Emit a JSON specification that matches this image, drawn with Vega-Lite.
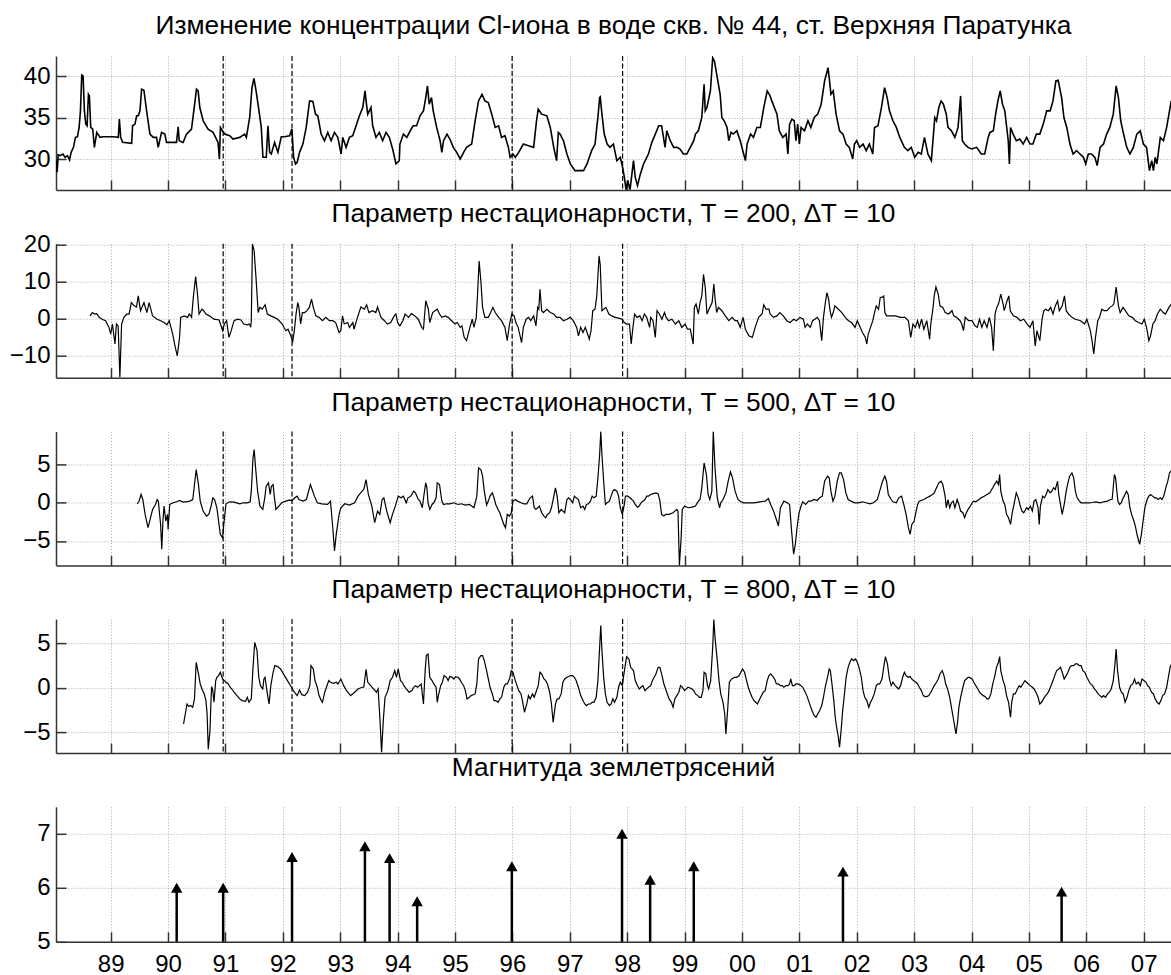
{
"$schema":"https://vega.github.io/schema/vega-lite/v6.json",
"background":"white",
"padding":{"left":9,"top":12,"right":0,"bottom":0},
"spacing":53.7,
"bounds":"flush",
"config":{
 "view":{"stroke":null},
 "font":"Liberation Sans",
 "title":{"font":"Liberation Sans","fontSize":26.3,"fontWeight":"normal","color":"#000","anchor":"middle","frame":"group","baseline":"alphabetic","offset":16},
 "axis":{"domainColor":"#333","domainWidth":1.5,"tickColor":"#333","tickWidth":1.5,"tickSize":-10,"gridColor":"#a8a8a8","gridDash":[1,2],"gridWidth":1,"labelFont":"Liberation Sans","labelFontSize":24,"labelColor":"#000","title":null},
 "axisX":{"labelPadding":21},
 "axisY":{"labelPadding":16}
},
"datasets":{
"ev":[{"t":1990.96},{"t":1992.16},{"t":1995.995},{"t":1997.92}],
"eq":[{"t":1990.15,"m":6.0},{"t":1990.96,"m":6.0},{"t":1992.16,"m":6.57},{"t":1993.43,"m":6.77},{"t":1993.86,"m":6.55},{"t":1994.34,"m":5.75},{"t":1995.99,"m":6.4},{"t":1997.91,"m":7.0},{"t":1998.40,"m":6.15},{"t":1999.16,"m":6.4},{"t":2001.76,"m":6.3},{"t":2005.57,"m":5.93}],
"cl":[
{"t":1988.050,"v":29.84},{"t":1988.067,"v":28.44},{"t":1988.085,"v":30.56},{"t":1988.119,"v":30.44},{"t":1988.166,"v":30.64},{"t":1988.206,"v":30.24},{"t":1988.247,"v":30.44},{"t":1988.282,"v":29.92},{"t":1988.311,"v":30.84},{"t":1988.351,"v":31.44},{"t":1988.386,"v":32.64},{"t":1988.421,"v":32.72},{"t":1988.450,"v":33.84},{"t":1988.473,"v":35.84},{"t":1988.496,"v":40.16},{"t":1988.519,"v":40.04},{"t":1988.542,"v":35.84},{"t":1988.566,"v":34.24},{"t":1988.589,"v":34.04},{"t":1988.612,"v":37.84},{"t":1988.629,"v":37.64},{"t":1988.652,"v":33.84},{"t":1988.687,"v":33.64},{"t":1988.716,"v":31.44},{"t":1988.757,"v":33.24},{"t":1988.815,"v":32.64},{"t":1988.873,"v":32.72},{"t":1989.046,"v":32.72},{"t":1989.133,"v":32.64},{"t":1989.151,"v":34.84},{"t":1989.174,"v":32.64},{"t":1989.209,"v":32.04},{"t":1989.365,"v":31.92},{"t":1989.382,"v":34.04},{"t":1989.423,"v":34.24},{"t":1989.452,"v":35.24},{"t":1989.481,"v":35.24},{"t":1989.510,"v":35.84},{"t":1989.539,"v":38.44},{"t":1989.579,"v":38.32},{"t":1989.626,"v":35.84},{"t":1989.684,"v":33.04},{"t":1989.742,"v":32.64},{"t":1989.799,"v":32.64},{"t":1989.828,"v":31.44},{"t":1989.886,"v":33.24},{"t":1989.944,"v":33.04},{"t":1989.973,"v":32.04},{"t":1990.147,"v":32.04},{"t":1990.176,"v":33.92},{"t":1990.194,"v":32.24},{"t":1990.263,"v":32.04},{"t":1990.321,"v":33.04},{"t":1990.408,"v":33.64},{"t":1990.448,"v":35.84},{"t":1990.495,"v":38.44},{"t":1990.524,"v":38.24},{"t":1990.553,"v":36.24},{"t":1990.611,"v":34.64},{"t":1990.697,"v":33.64},{"t":1990.784,"v":33.24},{"t":1990.871,"v":32.04},{"t":1990.894,"v":30.04},{"t":1990.912,"v":33.84},{"t":1990.947,"v":33.44},{"t":1990.987,"v":33.04},{"t":1991.074,"v":32.84},{"t":1991.132,"v":32.44},{"t":1991.248,"v":32.64},{"t":1991.335,"v":33.04},{"t":1991.364,"v":32.64},{"t":1991.422,"v":35.04},{"t":1991.462,"v":38.64},{"t":1991.497,"v":39.76},{"t":1991.538,"v":38.04},{"t":1991.584,"v":35.84},{"t":1991.624,"v":33.84},{"t":1991.653,"v":30.24},{"t":1991.711,"v":30.24},{"t":1991.740,"v":34.04},{"t":1991.770,"v":30.84},{"t":1991.799,"v":30.64},{"t":1991.856,"v":32.04},{"t":1991.914,"v":30.84},{"t":1991.972,"v":32.72},{"t":1992.030,"v":32.72},{"t":1992.117,"v":32.84},{"t":1992.158,"v":33.64},{"t":1992.187,"v":30.24},{"t":1992.221,"v":29.44},{"t":1992.250,"v":29.64},{"t":1992.291,"v":30.84},{"t":1992.349,"v":31.84},{"t":1992.407,"v":33.84},{"t":1992.465,"v":37.04},{"t":1992.523,"v":36.96},{"t":1992.569,"v":35.44},{"t":1992.609,"v":35.24},{"t":1992.667,"v":33.04},{"t":1992.725,"v":32.24},{"t":1992.783,"v":33.24},{"t":1992.841,"v":32.24},{"t":1992.899,"v":33.24},{"t":1992.957,"v":32.64},{"t":1993.015,"v":30.64},{"t":1993.044,"v":32.64},{"t":1993.102,"v":31.44},{"t":1993.160,"v":32.64},{"t":1993.218,"v":32.84},{"t":1993.276,"v":34.04},{"t":1993.334,"v":35.24},{"t":1993.392,"v":36.24},{"t":1993.432,"v":38.24},{"t":1993.450,"v":37.04},{"t":1993.479,"v":35.44},{"t":1993.536,"v":36.24},{"t":1993.565,"v":34.04},{"t":1993.623,"v":32.64},{"t":1993.681,"v":33.24},{"t":1993.739,"v":32.24},{"t":1993.797,"v":33.24},{"t":1993.855,"v":32.64},{"t":1993.913,"v":31.24},{"t":1993.971,"v":29.44},{"t":1994.029,"v":29.84},
{"t":1994.04,"v":31.84},{"t":1994.10,"v":33.04},{"t":1994.16,"v":32.64},{"t":1994.22,"v":33.44},{"t":1994.27,"v":34.04},{"t":1994.33,"v":34.04},{"t":1994.39,"v":35.24},{"t":1994.45,"v":35.84},{"t":1994.49,"v":37.44},{"t":1994.52,"v":38.84},{"t":1994.55,"v":36.64},{"t":1994.59,"v":37.44},{"t":1994.62,"v":35.84},{"t":1994.68,"v":33.84},{"t":1994.74,"v":32.24},{"t":1994.77,"v":30.84},{"t":1994.80,"v":32.24},{"t":1994.86,"v":33.04},{"t":1994.91,"v":32.44},{"t":1994.97,"v":31.44},{"t":1995.03,"v":30.84},{"t":1995.09,"v":30.04},{"t":1995.15,"v":30.84},{"t":1995.20,"v":31.44},{"t":1995.29,"v":31.84},{"t":1995.35,"v":34.64},{"t":1995.41,"v":37.04},{"t":1995.47,"v":37.84},{"t":1995.52,"v":37.04},{"t":1995.58,"v":36.84},{"t":1995.64,"v":35.44},{"t":1995.70,"v":33.84},{"t":1995.76,"v":34.04},{"t":1995.81,"v":32.64},{"t":1995.87,"v":32.84},{"t":1995.93,"v":31.44},{"t":1995.96,"v":30.24},{"t":1996.01,"v":30.64},{"t":1996.05,"v":30.24},{"t":1996.11,"v":30.84},{"t":1996.19,"v":31.84},{"t":1996.28,"v":31.64},{"t":1996.37,"v":31.44},{"t":1996.42,"v":34.64},{"t":1996.45,"v":36.04},{"t":1996.51,"v":35.44},{"t":1996.60,"v":35.24},{"t":1996.66,"v":33.84},{"t":1996.72,"v":31.44},{"t":1996.77,"v":29.84},{"t":1996.80,"v":33.24},{"t":1996.83,"v":33.04},{"t":1996.89,"v":32.24},{"t":1996.95,"v":30.64},{"t":1997.01,"v":29.44},{"t":1997.09,"v":28.64},{"t":1997.24,"v":28.64},{"t":1997.30,"v":29.44},{"t":1997.38,"v":31.04},{"t":1997.44,"v":31.84},{"t":1997.47,"v":33.84},{"t":1997.49,"v":35.04},{"t":1997.52,"v":37.44},{"t":1997.53,"v":37.52},{"t":1997.56,"v":35.44},{"t":1997.60,"v":33.04},{"t":1997.65,"v":31.84},{"t":1997.70,"v":31.44},{"t":1997.76,"v":31.84},{"t":1997.82,"v":29.84},{"t":1997.88,"v":30.24},{"t":1997.92,"v":29.04},{"t":1997.95,"v":27.84},{"t":1997.98,"v":26.34},{"t":1998.01,"v":27.44},{"t":1998.05,"v":26.34},{"t":1998.11,"v":29.84},{"t":1998.14,"v":27.84},{"t":1998.18,"v":26.84},{"t":1998.23,"v":28.24},{"t":1998.285,"v":29.44},{"t":1998.37,"v":30.64},{"t":1998.43,"v":32.04},{"t":1998.49,"v":33.04},{"t":1998.55,"v":34.04},{"t":1998.60,"v":34.04},{"t":1998.66,"v":31.44},{"t":1998.69,"v":33.44},{"t":1998.75,"v":32.24},{"t":1998.81,"v":31.44},{"t":1998.87,"v":31.44},{"t":1998.92,"v":31.24},{"t":1998.98,"v":30.64},{"t":1999.04,"v":30.64},{"t":1999.10,"v":31.44},{"t":1999.16,"v":32.24},{"t":1999.19,"v":33.04},{"t":1999.24,"v":33.44},{"t":1999.30,"v":35.04},{"t":1999.34,"v":39.04},{"t":1999.36,"v":35.84},{"t":1999.39,"v":36.24},{"t":1999.45,"v":38.24},{"t":1999.49,"v":42.24},{"t":1999.52,"v":41.84},{"t":1999.56,"v":40.24},{"t":1999.62,"v":37.84},{"t":1999.65,"v":35.04},{"t":1999.69,"v":34.64},{"t":1999.74,"v":33.84},{"t":1999.77,"v":32.24},{"t":1999.81,"v":33.24},{"t":1999.85,"v":33.04},{"t":1999.91,"v":33.44},{"t":1999.97,"v":32.24},{"t":2000.03,"v":30.64},{"t":2000.06,"v":29.84},{"t":2000.09,"v":31.84},{"t":2000.15,"v":33.04},{"t":2000.20,"v":32.64},{"t":2000.26,"v":33.84},{"t":2000.32,"v":33.84},{"t":2000.38,"v":36.24},{"t":2000.44,"v":38.24},{"t":2000.49,"v":37.64},{"t":2000.52,"v":37.04},{"t":2000.61,"v":35.44},
{"t":2000.65,"v":33.44},{"t":2000.71,"v":32.64},{"t":2000.77,"v":33.04},{"t":2000.80,"v":30.64},{"t":2000.83,"v":34.24},{"t":2000.87,"v":34.84},{"t":2000.91,"v":34.64},{"t":2000.94,"v":32.24},{"t":2000.97,"v":34.24},{"t":2001.00,"v":31.84},{"t":2001.03,"v":33.84},{"t":2001.09,"v":33.44},{"t":2001.15,"v":34.64},{"t":2001.20,"v":33.84},{"t":2001.26,"v":35.04},{"t":2001.32,"v":35.44},{"t":2001.38,"v":36.64},{"t":2001.44,"v":39.44},{"t":2001.50,"v":41.04},{"t":2001.52,"v":39.84},{"t":2001.55,"v":37.84},{"t":2001.59,"v":38.24},{"t":2001.64,"v":35.44},{"t":2001.70,"v":33.44},{"t":2001.76,"v":33.04},{"t":2001.815,"v":31.84},{"t":2001.87,"v":31.44},{"t":2001.93,"v":30.04},{"t":2001.96,"v":31.84},{"t":2002.00,"v":32.24},{"t":2002.05,"v":31.44},{"t":2002.11,"v":31.84},{"t":2002.165,"v":31.04},{"t":2002.22,"v":31.84},{"t":2002.28,"v":30.64},{"t":2002.31,"v":33.84},{"t":2002.37,"v":34.04},{"t":2002.43,"v":36.24},{"t":2002.485,"v":38.64},{"t":2002.53,"v":37.44},{"t":2002.57,"v":35.84},{"t":2002.63,"v":34.64},{"t":2002.69,"v":33.84},{"t":2002.75,"v":32.64},{"t":2002.83,"v":31.44},{"t":2002.89,"v":31.04},{"t":2002.95,"v":31.44},{"t":2003.01,"v":30.24},{"t":2003.07,"v":30.84},{"t":2003.125,"v":30.64},{"t":2003.18,"v":32.64},{"t":2003.24,"v":30.64},{"t":2003.30,"v":29.84},{"t":2003.36,"v":35.04},{"t":2003.39,"v":34.64},{"t":2003.43,"v":36.24},{"t":2003.47,"v":37.04},{"t":2003.51,"v":36.64},{"t":2003.56,"v":35.44},{"t":2003.59,"v":33.84},{"t":2003.65,"v":33.44},{"t":2003.71,"v":32.64},{"t":2003.765,"v":33.84},{"t":2003.81,"v":37.64},{"t":2003.84,"v":32.24},{"t":2003.88,"v":31.84},{"t":2003.94,"v":31.44},{"t":2004.00,"v":31.24},{"t":2004.09,"v":31.44},{"t":2004.17,"v":30.64},{"t":2004.23,"v":30.64},{"t":2004.29,"v":32.64},{"t":2004.32,"v":33.24},{"t":2004.38,"v":33.44},{"t":2004.42,"v":35.44},{"t":2004.46,"v":37.04},{"t":2004.50,"v":38.24},{"t":2004.54,"v":36.64},{"t":2004.58,"v":35.84},{"t":2004.64,"v":32.24},{"t":2004.66,"v":29.44},{"t":2004.68,"v":33.84},{"t":2004.725,"v":33.04},{"t":2004.78,"v":32.24},{"t":2004.84,"v":32.44},{"t":2004.90,"v":31.84},{"t":2004.96,"v":32.64},{"t":2005.02,"v":31.84},{"t":2005.07,"v":31.84},{"t":2005.13,"v":33.04},{"t":2005.19,"v":33.04},{"t":2005.25,"v":34.24},{"t":2005.31,"v":35.84},{"t":2005.37,"v":35.84},{"t":2005.42,"v":37.04},{"t":2005.47,"v":39.44},{"t":2005.51,"v":39.52},{"t":2005.57,"v":37.44},{"t":2005.61,"v":35.04},{"t":2005.66,"v":33.84},{"t":2005.715,"v":31.84},{"t":2005.77,"v":30.64},{"t":2005.83,"v":31.04},{"t":2005.89,"v":30.64},{"t":2005.95,"v":30.24},{"t":2005.99,"v":29.44},{"t":2006.035,"v":30.64},{"t":2006.09,"v":30.64},{"t":2006.15,"v":30.24},{"t":2006.19,"v":29.24},{"t":2006.24,"v":31.44},{"t":2006.30,"v":31.84},{"t":2006.355,"v":33.04},{"t":2006.41,"v":33.84},{"t":2006.47,"v":35.44},{"t":2006.52,"v":38.84},{"t":2006.56,"v":37.44},{"t":2006.60,"v":34.64},{"t":2006.65,"v":33.04},{"t":2006.705,"v":31.44},{"t":2006.76,"v":30.64},{"t":2006.82,"v":31.44},{"t":2006.88,"v":33.04},{"t":2006.94,"v":33.44},{"t":2006.995,"v":31.84},{"t":2007.05,"v":31.44},{"t":2007.10,"v":28.64},{"t":2007.14,"v":29.84},{"t":2007.17,"v":28.64},{"t":2007.20,"v":30.24},{"t":2007.23,"v":29.44},{"t":2007.29,"v":32.64},{"t":2007.345,"v":32.24},{"t":2007.40,"v":33.84},{"t":2007.45,"v":35.84},{"t":2007.48,"v":37.04}
],
"p200":[
{"t":1988.64,"v":0.7},{"t":1988.68,"v":1.6},{"t":1988.72,"v":1.2},{"t":1988.755,"v":1.3},{"t":1988.80,"v":0.3},{"t":1988.85,"v":-0.2},{"t":1988.91,"v":-0.6},{"t":1988.97,"v":-2.4},{"t":1989.00,"v":-4.2},{"t":1989.03,"v":-1.5},{"t":1989.075,"v":-6.9},{"t":1989.10,"v":-1.5},{"t":1989.13,"v":-2.0},{"t":1989.16,"v":-15.9},{"t":1989.19,"v":-1.5},{"t":1989.23,"v":0.3},{"t":1989.28,"v":1.2},{"t":1989.32,"v":1.2},{"t":1989.36,"v":4.3},{"t":1989.41,"v":3.4},{"t":1989.45,"v":3.1},{"t":1989.48,"v":6.1},{"t":1989.52,"v":2.1},{"t":1989.58,"v":4.3},{"t":1989.63,"v":1.6},{"t":1989.67,"v":4.3},{"t":1989.73,"v":0.7},{"t":1989.81,"v":-0.2},{"t":1989.87,"v":-0.6},{"t":1989.93,"v":-1.1},{"t":1989.98,"v":-1.7},{"t":1990.02,"v":-0.6},{"t":1990.08,"v":-4.2},{"t":1990.12,"v":-7.4},{"t":1990.16,"v":-10.1},{"t":1990.20,"v":-5.1},{"t":1990.22,"v":0.3},{"t":1990.28,"v":0.7},{"t":1990.34,"v":0.3},{"t":1990.37,"v":1.2},{"t":1990.41,"v":0.3},{"t":1990.44,"v":5.7},{"t":1990.48,"v":11.3},{"t":1990.51,"v":7.0},{"t":1990.54,"v":1.2},{"t":1990.59,"v":2.5},{"t":1990.62,"v":2.1},{"t":1990.66,"v":1.2},{"t":1990.72,"v":0.7},{"t":1990.80,"v":-0.2},{"t":1990.89,"v":-0.4},{"t":1990.95,"v":-3.3},{"t":1990.98,"v":-1.5},{"t":1991.02,"v":-0.6},{"t":1991.06,"v":-5.1},{"t":1991.10,"v":-3.3},{"t":1991.15,"v":-0.6},{"t":1991.21,"v":-0.2},{"t":1991.27,"v":-0.4},{"t":1991.32,"v":-1.5},{"t":1991.38,"v":-1.7},{"t":1991.41,"v":-1.5},{"t":1991.44,"v":-2.2},{"t":1991.45,"v":-0.6},{"t":1991.47,"v":20.2},{"t":1991.50,"v":18.2},{"t":1991.53,"v":11.5},{"t":1991.57,"v":1.6},{"t":1991.60,"v":3.0},{"t":1991.64,"v":2.5},{"t":1991.69,"v":3.7},{"t":1991.73,"v":1.2},{"t":1991.79,"v":0.7},{"t":1991.85,"v":0.3},{"t":1991.91,"v":-0.2},{"t":1991.99,"v":-1.5},{"t":1992.05,"v":-3.3},{"t":1992.09,"v":-2.9},{"t":1992.14,"v":-4.7},{"t":1992.17,"v":-6.5},{"t":1992.20,"v":-3.3},{"t":1992.23,"v":1.2},{"t":1992.26,"v":4.3},{"t":1992.28,"v":3.0},{"t":1992.31,"v":-1.5},{"t":1992.34,"v":1.6},{"t":1992.38,"v":1.6},{"t":1992.42,"v":2.1},{"t":1992.46,"v":3.0},{"t":1992.50,"v":5.2},{"t":1992.53,"v":3.0},{"t":1992.575,"v":0.7},{"t":1992.63,"v":0.3},{"t":1992.69,"v":-0.6},{"t":1992.75,"v":0.3},{"t":1992.81,"v":-0.6},{"t":1992.87,"v":-0.6},{"t":1992.92,"v":-1.1},{"t":1992.98,"v":-3.8},{"t":1993.01,"v":-3.3},{"t":1993.04,"v":0.7},{"t":1993.07,"v":-1.5},{"t":1993.13,"v":-1.1},{"t":1993.16,"v":-2.4},{"t":1993.22,"v":-1.1},{"t":1993.24,"v":-2.9},{"t":1993.30,"v":0.3},{"t":1993.36,"v":3.1},{"t":1993.42,"v":2.5},{"t":1993.46,"v":3.7},{"t":1993.50,"v":1.6},{"t":1993.56,"v":2.1},{"t":1993.62,"v":1.6},{"t":1993.65,"v":3.1},{"t":1993.71,"v":0.3},{"t":1993.77,"v":-0.6},{"t":1993.82,"v":-1.5},{"t":1993.88,"v":-1.1},{"t":1993.94,"v":0.7},{"t":1993.97,"v":1.2},{"t":1994.00,"v":-1.1},
{"t":1994.04,"v":-2.0},{"t":1994.09,"v":-0.6},{"t":1994.13,"v":1.2},{"t":1994.19,"v":0.3},{"t":1994.24,"v":1.3},{"t":1994.30,"v":0.7},{"t":1994.36,"v":-0.2},{"t":1994.42,"v":-2.4},{"t":1994.45,"v":-2.9},{"t":1994.49,"v":4.8},{"t":1994.535,"v":2.5},{"t":1994.56,"v":-1.1},{"t":1994.61,"v":1.6},{"t":1994.65,"v":2.1},{"t":1994.69,"v":2.5},{"t":1994.73,"v":1.2},{"t":1994.77,"v":0.3},{"t":1994.83,"v":0.7},{"t":1994.88,"v":0.3},{"t":1994.94,"v":-0.6},{"t":1995.00,"v":-1.5},{"t":1995.04,"v":-1.1},{"t":1995.09,"v":-2.4},{"t":1995.12,"v":-2.0},{"t":1995.16,"v":-5.1},{"t":1995.20,"v":-6.0},{"t":1995.26,"v":-2.4},{"t":1995.30,"v":-0.2},{"t":1995.33,"v":-2.4},{"t":1995.37,"v":0.3},{"t":1995.39,"v":5.7},{"t":1995.42,"v":15.5},{"t":1995.45,"v":10.2},{"t":1995.48,"v":3.0},{"t":1995.52,"v":0.3},{"t":1995.58,"v":0.3},{"t":1995.62,"v":1.6},{"t":1995.66,"v":3.0},{"t":1995.70,"v":1.6},{"t":1995.76,"v":0.3},{"t":1995.81,"v":-0.6},{"t":1995.87,"v":-2.4},{"t":1995.91,"v":-6.0},{"t":1995.95,"v":-1.5},{"t":1995.99,"v":1.2},{"t":1996.03,"v":0.7},{"t":1996.06,"v":-1.1},{"t":1996.10,"v":-2.4},{"t":1996.16,"v":-6.5},{"t":1996.19,"v":-2.4},{"t":1996.24,"v":-0.2},{"t":1996.28,"v":0.3},{"t":1996.32,"v":-0.6},{"t":1996.37,"v":0.7},{"t":1996.41,"v":-2.0},{"t":1996.44,"v":3.0},{"t":1996.46,"v":2.5},{"t":1996.48,"v":7.9},{"t":1996.51,"v":2.1},{"t":1996.54,"v":1.6},{"t":1996.60,"v":2.5},{"t":1996.66,"v":1.6},{"t":1996.72,"v":1.2},{"t":1996.77,"v":0.3},{"t":1996.83,"v":0.3},{"t":1996.89,"v":-0.6},{"t":1996.95,"v":-0.2},{"t":1997.01,"v":0.3},{"t":1997.06,"v":-0.6},{"t":1997.09,"v":-1.5},{"t":1997.12,"v":-2.4},{"t":1997.15,"v":-4.7},{"t":1997.19,"v":-2.4},{"t":1997.23,"v":-3.8},{"t":1997.27,"v":-2.4},{"t":1997.31,"v":-4.2},{"t":1997.34,"v":-5.6},{"t":1997.37,"v":-3.3},{"t":1997.40,"v":2.1},{"t":1997.44,"v":2.5},{"t":1997.47,"v":6.1},{"t":1997.51,"v":16.9},{"t":1997.53,"v":14.6},{"t":1997.56,"v":2.1},{"t":1997.59,"v":2.5},{"t":1997.63,"v":3.0},{"t":1997.68,"v":1.2},{"t":1997.73,"v":0.7},{"t":1997.79,"v":0.3},{"t":1997.85,"v":0.1},{"t":1997.91,"v":-0.2},{"t":1997.95,"v":-1.1},{"t":1997.99,"v":-1.5},{"t":1998.04,"v":-1.5},{"t":1998.07,"v":-6.9},{"t":1998.10,"v":-2.4},{"t":1998.13,"v":1.2},{"t":1998.17,"v":0.3},{"t":1998.22,"v":0.7},{"t":1998.26,"v":-0.6},{"t":1998.30,"v":1.2},{"t":1998.34,"v":0.3},{"t":1998.39,"v":-2.4},{"t":1998.41,"v":0.3},{"t":1998.45,"v":-0.6},{"t":1998.49,"v":-5.1},{"t":1998.52,"v":2.1},{"t":1998.56,"v":1.2},{"t":1998.605,"v":-0.2},{"t":1998.65,"v":1.6},{"t":1998.68,"v":0.3},{"t":1998.72,"v":-0.6},{"t":1998.78,"v":-0.2},{"t":1998.84,"v":-1.5},{"t":1998.90,"v":-0.6},{"t":1998.95,"v":-2.4},{"t":1999.01,"v":-1.5},{"t":1999.05,"v":-2.9},{"t":1999.10,"v":-2.9},{"t":1999.15,"v":-6.9},{"t":1999.17,"v":3.0},{"t":1999.20,"v":3.9},{"t":1999.24,"v":1.2},{"t":1999.27,"v":4.3},{"t":1999.30,"v":6.1},{"t":1999.33,"v":11.9},{"t":1999.36,"v":8.4},{"t":1999.39,"v":1.2},{"t":1999.44,"v":3.0},{"t":1999.48,"v":4.3},{"t":1999.51,"v":9.3},{"t":1999.535,"v":4.8},{"t":1999.56,"v":1.6},{"t":1999.59,"v":3.0},{"t":1999.65,"v":2.1},{"t":1999.71,"v":0.7},{"t":1999.77,"v":-0.6},{"t":1999.83,"v":0.3},{"t":1999.88,"v":-0.6},{"t":1999.92,"v":-0.6},{"t":1999.97,"v":-2.4},{"t":2000.02,"v":0.3},{"t":2000.06,"v":-2.9},{"t":2000.12,"v":-4.7},{"t":2000.18,"v":-5.1},{"t":2000.23,"v":-2.4},{"t":2000.29,"v":0.3},{"t":2000.35,"v":1.2},{"t":2000.38,"v":3.7},{"t":2000.42,"v":2.5},{"t":2000.47,"v":2.5},{"t":2000.49,"v":1.2},{"t":2000.55,"v":0.3},{"t":2000.61,"v":0.7},
{"t":2000.66,"v":1.6},{"t":2000.72,"v":0.7},{"t":2000.78,"v":-0.6},{"t":2000.84,"v":-1.1},{"t":2000.90,"v":-0.2},{"t":2000.95,"v":-0.6},{"t":2001.01,"v":0.3},{"t":2001.07,"v":-0.2},{"t":2001.10,"v":-2.4},{"t":2001.14,"v":-1.5},{"t":2001.19,"v":-2.4},{"t":2001.23,"v":-0.6},{"t":2001.27,"v":-0.2},{"t":2001.31,"v":0.3},{"t":2001.35,"v":-0.6},{"t":2001.39,"v":-6.0},{"t":2001.42,"v":0.3},{"t":2001.45,"v":3.9},{"t":2001.48,"v":7.0},{"t":2001.51,"v":5.2},{"t":2001.535,"v":2.1},{"t":2001.56,"v":0.3},{"t":2001.59,"v":1.6},{"t":2001.62,"v":3.4},{"t":2001.68,"v":2.5},{"t":2001.74,"v":1.6},{"t":2001.80,"v":0.3},{"t":2001.855,"v":-0.6},{"t":2001.91,"v":-1.1},{"t":2001.97,"v":-2.4},{"t":2002.01,"v":-0.6},{"t":2002.06,"v":-2.4},{"t":2002.10,"v":-3.8},{"t":2002.15,"v":-5.1},{"t":2002.175,"v":-6.9},{"t":2002.20,"v":-4.2},{"t":2002.24,"v":-2.4},{"t":2002.28,"v":-0.6},{"t":2002.31,"v":1.6},{"t":2002.34,"v":3.4},{"t":2002.38,"v":2.5},{"t":2002.41,"v":5.7},{"t":2002.44,"v":5.7},{"t":2002.47,"v":6.1},{"t":2002.49,"v":1.6},{"t":2002.52,"v":0.7},{"t":2002.58,"v":0.7},{"t":2002.67,"v":0.7},{"t":2002.76,"v":0.3},{"t":2002.84,"v":0.3},{"t":2002.90,"v":-0.6},{"t":2002.94,"v":-5.1},{"t":2002.98,"v":-1.5},{"t":2003.02,"v":-2.4},{"t":2003.06,"v":-0.6},{"t":2003.09,"v":-2.4},{"t":2003.13,"v":-0.2},{"t":2003.17,"v":-2.9},{"t":2003.22,"v":-0.6},{"t":2003.27,"v":-5.6},{"t":2003.29,"v":-1.5},{"t":2003.33,"v":3.0},{"t":2003.35,"v":6.1},{"t":2003.38,"v":8.5},{"t":2003.42,"v":6.6},{"t":2003.45,"v":3.4},{"t":2003.50,"v":3.0},{"t":2003.54,"v":1.6},{"t":2003.60,"v":1.2},{"t":2003.66,"v":2.1},{"t":2003.69,"v":0.7},{"t":2003.74,"v":0.3},{"t":2003.80,"v":-0.6},{"t":2003.83,"v":-1.5},{"t":2003.86,"v":-3.3},{"t":2003.89,"v":0.3},{"t":2003.95,"v":-0.6},{"t":2004.01,"v":-0.6},{"t":2004.06,"v":-2.0},{"t":2004.10,"v":-2.4},{"t":2004.14,"v":-0.2},{"t":2004.18,"v":-2.4},{"t":2004.22,"v":-0.6},{"t":2004.27,"v":-2.4},{"t":2004.31,"v":0.3},{"t":2004.35,"v":-2.4},{"t":2004.38,"v":-8.7},{"t":2004.41,"v":1.2},{"t":2004.44,"v":3.0},{"t":2004.47,"v":3.9},{"t":2004.51,"v":6.6},{"t":2004.55,"v":3.9},{"t":2004.57,"v":2.1},{"t":2004.62,"v":4.8},{"t":2004.65,"v":6.1},{"t":2004.675,"v":2.1},{"t":2004.73,"v":0.7},{"t":2004.79,"v":0.3},{"t":2004.85,"v":-0.6},{"t":2004.91,"v":-0.2},{"t":2004.97,"v":-1.5},{"t":2005.02,"v":-2.4},{"t":2005.07,"v":-0.6},{"t":2005.11,"v":-7.4},{"t":2005.14,"v":-3.3},{"t":2005.19,"v":-6.0},{"t":2005.23,"v":-0.2},{"t":2005.26,"v":2.1},{"t":2005.29,"v":2.5},{"t":2005.34,"v":2.1},{"t":2005.38,"v":3.0},{"t":2005.42,"v":1.2},{"t":2005.46,"v":3.4},{"t":2005.50,"v":4.8},{"t":2005.53,"v":2.1},{"t":2005.58,"v":3.4},{"t":2005.62,"v":6.1},{"t":2005.65,"v":2.1},{"t":2005.69,"v":1.2},{"t":2005.75,"v":0.3},{"t":2005.81,"v":-0.2},{"t":2005.90,"v":-0.6},{"t":2005.97,"v":-1.5},{"t":2006.01,"v":-0.2},{"t":2006.07,"v":-3.3},{"t":2006.10,"v":-6.0},{"t":2006.13,"v":-9.6},{"t":2006.16,"v":-5.1},{"t":2006.20,"v":-0.6},{"t":2006.23,"v":0.3},{"t":2006.27,"v":2.5},{"t":2006.31,"v":2.1},{"t":2006.36,"v":2.1},{"t":2006.41,"v":3.0},{"t":2006.45,"v":3.4},{"t":2006.48,"v":3.9},{"t":2006.52,"v":8.5},{"t":2006.56,"v":3.4},{"t":2006.59,"v":1.6},{"t":2006.64,"v":3.0},{"t":2006.68,"v":2.1},{"t":2006.74,"v":0.7},{"t":2006.80,"v":0.3},{"t":2006.855,"v":-0.6},{"t":2006.91,"v":-1.1},{"t":2006.97,"v":-1.5},{"t":2007.01,"v":-0.2},{"t":2007.05,"v":-2.4},{"t":2007.09,"v":-6.0},{"t":2007.12,"v":-4.7},{"t":2007.16,"v":-1.5},{"t":2007.20,"v":-0.6},{"t":2007.24,"v":1.2},{"t":2007.29,"v":2.5},{"t":2007.34,"v":1.6},{"t":2007.38,"v":1.2},{"t":2007.44,"v":3.0},{"t":2007.48,"v":3.9}
],
"p500":[
{"t":1989.46,"v":-0.13},{"t":1989.49,"v":0.13},{"t":1989.53,"v":1.09},{"t":1989.56,"v":0.43},{"t":1989.60,"v":-1.52},{"t":1989.65,"v":-3.26},{"t":1989.68,"v":-2.39},{"t":1989.73,"v":-0.87},{"t":1989.78,"v":-0.22},{"t":1989.81,"v":0.43},{"t":1989.83,"v":0.22},{"t":1989.87,"v":-2.83},{"t":1989.89,"v":-6.09},{"t":1989.91,"v":-2.39},{"t":1989.93,"v":-0.43},{"t":1989.96,"v":-2.39},{"t":1989.99,"v":-1.52},{"t":1990.00,"v":-3.48},{"t":1990.03,"v":-0.22},{"t":1990.05,"v":-0.13},{"t":1990.09,"v":0},{"t":1990.15,"v":0.13},{"t":1990.20,"v":0.30},{"t":1990.25,"v":0.13},{"t":1990.31,"v":0.13},{"t":1990.38,"v":0.22},{"t":1990.43,"v":0.43},{"t":1990.46,"v":2.39},{"t":1990.49,"v":4.35},{"t":1990.53,"v":2.39},{"t":1990.56,"v":0.22},{"t":1990.61,"v":-1.09},{"t":1990.67,"v":-1.74},{"t":1990.71,"v":-1.52},{"t":1990.75,"v":-0.43},{"t":1990.78,"v":0.65},{"t":1990.81,"v":0.43},{"t":1990.85,"v":-0.65},{"t":1990.88,"v":-2.39},{"t":1990.91,"v":-4.13},{"t":1990.95,"v":-4.57},{"t":1990.97,"v":-2.83},{"t":1991.01,"v":-0.13},{"t":1991.07,"v":0.13},{"t":1991.15,"v":0.09},{"t":1991.25,"v":-0.13},{"t":1991.31,"v":0},{"t":1991.38,"v":0},{"t":1991.43,"v":0.13},{"t":1991.45,"v":1.52},{"t":1991.48,"v":5.87},{"t":1991.50,"v":6.96},{"t":1991.53,"v":4.13},{"t":1991.56,"v":1.52},{"t":1991.60,"v":-0.43},{"t":1991.65,"v":-0.87},{"t":1991.68,"v":0.43},{"t":1991.71,"v":2.17},{"t":1991.75,"v":2.61},{"t":1991.78,"v":1.09},{"t":1991.80,"v":2.17},{"t":1991.83,"v":2.39},{"t":1991.85,"v":0.87},{"t":1991.88,"v":-0.87},{"t":1991.93,"v":-0.43},{"t":1991.98,"v":0},{"t":1992.05,"v":0.22},{"t":1992.11,"v":0.35},{"t":1992.16,"v":0.30},{"t":1992.21,"v":0.65},{"t":1992.25,"v":0.87},{"t":1992.28,"v":0.43},{"t":1992.35,"v":0.22},{"t":1992.41,"v":0.43},{"t":1992.48,"v":2.39},{"t":1992.51,"v":1.74},{"t":1992.55,"v":0.87},{"t":1992.60,"v":0},{"t":1992.68,"v":-0.13},{"t":1992.78,"v":-0.22},{"t":1992.83,"v":0.22},{"t":1992.87,"v":-3.26},{"t":1992.90,"v":-6.30},{"t":1992.93,"v":-4.13},{"t":1992.98,"v":-1.52},{"t":1993.01,"v":-0.65},{"t":1993.08,"v":-0.13},{"t":1993.16,"v":-0.30},{"t":1993.25,"v":0},{"t":1993.31,"v":0.87},{"t":1993.38,"v":1.52},{"t":1993.41,"v":1.74},{"t":1993.45,"v":3.04},{"t":1993.49,"v":1.09},{"t":1993.55,"v":-0.43},{"t":1993.60,"v":-2.61},{"t":1993.65,"v":-1.09},{"t":1993.69,"v":-1.52},{"t":1993.73,"v":0.43},{"t":1993.76,"v":0.65},{"t":1993.81,"v":-1.09},{"t":1993.87,"v":-2.61},{"t":1993.91,"v":-1.52},{"t":1993.96,"v":-0.43},{"t":1994.01,"v":0.87},{"t":1994.06,"v":0.65},{"t":1994.10,"v":0.87},{"t":1994.15,"v":0},{"t":1994.18,"v":0.65},{"t":1994.23,"v":0.87},{"t":1994.28,"v":1.52},{"t":1994.31,"v":1.30},{"t":1994.36,"v":0.43},{"t":1994.39,"v":0.22},{"t":1994.43,"v":-0.65},{"t":1994.46,"v":1.09},{"t":1994.49,"v":2.61},{"t":1994.51,"v":1.96},{"t":1994.53,"v":0},{"t":1994.56,"v":-0.87},{"t":1994.60,"v":-0.22},{"t":1994.63,"v":0},{"t":1994.67,"v":0.65},{"t":1994.69,"v":2.61},{"t":1994.73,"v":2.39},{"t":1994.77,"v":0.22},{"t":1994.80,"v":-0.22},{"t":1994.85,"v":-0.13},{"t":1994.91,"v":-0.13},{"t":1994.98,"v":0},{"t":1995.05,"v":-0.22},{"t":1995.11,"v":-0.13},{"t":1995.18,"v":-0.30},{"t":1995.25,"v":-0.22},{"t":1995.29,"v":-0.43},{"t":1995.33,"v":-0.65},{"t":1995.38,"v":0.87},{"t":1995.41,"v":4.57},{"t":1995.45,"v":4.35},{"t":1995.48,"v":3.48},{"t":1995.51,"v":1.52},{"t":1995.55,"v":-0.30},{"t":1995.58,"v":0.22},{"t":1995.61,"v":0.87},{"t":1995.65,"v":1.30},{"t":1995.68,"v":0.65},{"t":1995.71,"v":-0.22},{"t":1995.75,"v":-0.87},{"t":1995.78,"v":-1.30},{"t":1995.81,"v":-1.96},{"t":1995.85,"v":-2.83},{"t":1995.88,"v":-3.26},{"t":1995.91,"v":-1.52},{"t":1995.95,"v":-1.74},{"t":1995.98,"v":-1.30},{"t":1996.01,"v":0.22},{"t":1996.05,"v":0.43},{"t":1996.09,"v":0.22},{"t":1996.15,"v":0},{"t":1996.20,"v":-0.13},{"t":1996.25,"v":-0.13},{"t":1996.29,"v":0.43},{"t":1996.31,"v":0.65},{"t":1996.35,"v":0.87},{"t":1996.38,"v":-0.65},{"t":1996.41,"v":-0.87},{"t":1996.47,"v":-0.43},{"t":1996.51,"v":-1.30},{"t":1996.55,"v":-1.74},{"t":1996.58,"v":-1.96},{"t":1996.61,"v":-1.52},{"t":1996.65,"v":-1.30},{"t":1996.68,"v":-0.65},{"t":1996.71,"v":0.43},{"t":1996.75,"v":1.96},{"t":1996.78,"v":0.87},{"t":1996.81,"v":-1.30},{"t":1996.85,"v":-0.87},{"t":1996.88,"v":-1.09},{"t":1996.91,"v":-1.30},{"t":1996.95,"v":0.43},{"t":1996.98,"v":0.65},{"t":1997.01,"v":0.43},{"t":1997.05,"v":0},{"t":1997.08,"v":0.87},{"t":1997.11,"v":0.65},{"t":1997.15,"v":0.43},
{"t":1997.19,"v":-0.65},{"t":1997.23,"v":-0.43},{"t":1997.26,"v":-0.87},{"t":1997.29,"v":-0.22},{"t":1997.325,"v":-0.13},{"t":1997.36,"v":0.22},{"t":1997.39,"v":0.87},{"t":1997.42,"v":0.65},{"t":1997.46,"v":0.87},{"t":1997.49,"v":3.26},{"t":1997.52,"v":6.30},{"t":1997.54,"v":9.35},{"t":1997.56,"v":6.30},{"t":1997.59,"v":2.83},{"t":1997.62,"v":-0.22},{"t":1997.65,"v":0},{"t":1997.69,"v":0.22},{"t":1997.72,"v":0.87},{"t":1997.75,"v":1.52},{"t":1997.78,"v":1.74},{"t":1997.82,"v":1.52},{"t":1997.85,"v":0.87},{"t":1997.88,"v":-0.65},{"t":1997.915,"v":-1.52},{"t":1997.95,"v":-0.22},{"t":1997.97,"v":0.87},{"t":1998.01,"v":0.87},{"t":1998.05,"v":0.65},{"t":1998.08,"v":0.43},{"t":1998.11,"v":0.22},{"t":1998.14,"v":-0.22},{"t":1998.18,"v":-0.57},{"t":1998.21,"v":-0.43},{"t":1998.24,"v":0},{"t":1998.31,"v":0.43},{"t":1998.34,"v":0.87},{"t":1998.37,"v":0.87},{"t":1998.41,"v":1.09},{"t":1998.44,"v":1.17},{"t":1998.50,"v":1.30},{"t":1998.54,"v":1.17},{"t":1998.57,"v":0.22},{"t":1998.60,"v":-1.52},{"t":1998.64,"v":-1.74},{"t":1998.67,"v":-1.52},{"t":1998.73,"v":-1.52},{"t":1998.80,"v":-1.30},{"t":1998.83,"v":-1.09},{"t":1998.865,"v":-0.87},{"t":1998.885,"v":-1.09},{"t":1998.91,"v":-8.2},{"t":1998.94,"v":-4.57},{"t":1998.96,"v":-0.87},{"t":1999.00,"v":-0.43},{"t":1999.06,"v":-0.65},{"t":1999.13,"v":-0.57},{"t":1999.19,"v":-0.43},{"t":1999.24,"v":0.22},{"t":1999.27,"v":0.43},{"t":1999.30,"v":1.96},{"t":1999.34,"v":5.22},{"t":1999.38,"v":3.70},{"t":1999.41,"v":1.09},{"t":1999.44,"v":0.43},{"t":1999.475,"v":1.52},{"t":1999.50,"v":9.35},{"t":1999.53,"v":4.57},{"t":1999.57,"v":0.65},{"t":1999.61,"v":-0.65},{"t":1999.63,"v":0},{"t":1999.67,"v":0.43},{"t":1999.72,"v":1.30},{"t":1999.76,"v":2.83},{"t":1999.80,"v":4.04},{"t":1999.835,"v":3.26},{"t":1999.88,"v":1.52},{"t":1999.93,"v":0.43},{"t":1999.98,"v":0.13},{"t":2000.025,"v":0},{"t":2000.11,"v":0},{"t":2000.21,"v":0},{"t":2000.31,"v":0.13},{"t":2000.405,"v":0.22},{"t":2000.46,"v":0.57},{"t":2000.50,"v":-0.22},{"t":2000.55,"v":-1.09},{"t":2000.59,"v":-1.96},{"t":2000.635,"v":-3.04},{"t":2000.67,"v":-0.65},{"t":2000.70,"v":-0.22},{"t":2000.73,"v":0.22},{"t":2000.79,"v":0},{"t":2000.83,"v":-0.22},{"t":2000.86,"v":-3.26},{"t":2000.90,"v":-6.74},{"t":2000.93,"v":-5.43},{"t":2000.96,"v":-3.26},{"t":2000.995,"v":-1.30},{"t":2001.03,"v":-0.43},{"t":2001.06,"v":0.13},{"t":2001.11,"v":-0.22},{"t":2001.16,"v":0.22},{"t":2001.20,"v":0.22},{"t":2001.26,"v":0.43},{"t":2001.31,"v":0.30},{"t":2001.355,"v":0.65},{"t":2001.40,"v":0.87},{"t":2001.44,"v":2.83},{"t":2001.49,"v":3.48},{"t":2001.52,"v":3.26},{"t":2001.55,"v":1.52},{"t":2001.585,"v":0.22},{"t":2001.62,"v":0.87},{"t":2001.66,"v":2.83},{"t":2001.70,"v":3.91},{"t":2001.73,"v":3.91},{"t":2001.77,"v":3.04},{"t":2001.81,"v":1.30},{"t":2001.85,"v":0.43},{"t":2001.90,"v":0.22},{"t":2001.965,"v":0},{"t":2002.03,"v":0},{"t":2002.10,"v":0.13},{"t":2002.16,"v":0},{"t":2002.23,"v":-0.13},{"t":2002.29,"v":0},{"t":2002.36,"v":0.43},{"t":2002.40,"v":1.52},{"t":2002.45,"v":2.83},{"t":2002.49,"v":3.48},{"t":2002.52,"v":2.83},{"t":2002.55,"v":1.09},{"t":2002.60,"v":0.43},{"t":2002.63,"v":0.13},{"t":2002.69,"v":0},{"t":2002.73,"v":0.65},{"t":2002.78,"v":0.87},{"t":2002.82,"v":-0.22},{"t":2002.86,"v":-1.52},{"t":2002.90,"v":-3.26},{"t":2002.93,"v":-4.13},{"t":2002.96,"v":-2.83},{"t":2003.00,"v":-2.39},{"t":2003.03,"v":-1.30},{"t":2003.06,"v":-0.22},{"t":2003.09,"v":0.22},{"t":2003.12,"v":0.30},{"t":2003.17,"v":0.43},{"t":2003.22,"v":0.65},{"t":2003.275,"v":0.87},{"t":2003.32,"v":1.09},{"t":2003.35,"v":1.30},{"t":2003.39,"v":1.96},{"t":2003.43,"v":2.61},{"t":2003.47,"v":2.83},{"t":2003.50,"v":2.39},{"t":2003.54,"v":0.87},{"t":2003.56,"v":-0.65},{"t":2003.59,"v":0.43},{"t":2003.62,"v":-0.65},{"t":2003.65,"v":0},{"t":2003.68,"v":0.22},{"t":2003.71,"v":-0.65},{"t":2003.75,"v":0.43},{"t":2003.78,"v":-0.22},{"t":2003.81,"v":-1.09},{"t":2003.85,"v":-1.30},{"t":2003.88,"v":-1.96},{"t":2003.91,"v":-1.30},{"t":2003.94,"v":-0.87},{"t":2003.98,"v":-0.43},{"t":2004.01,"v":0},{"t":2004.04,"v":0.22},{"t":2004.075,"v":0.13},{"t":2004.13,"v":0.43},{"t":2004.17,"v":0.65},{"t":2004.22,"v":0.87},{"t":2004.27,"v":1.09},{"t":2004.32,"v":1.30},{"t":2004.37,"v":1.96},{"t":2004.40,"v":2.39},{"t":2004.44,"v":2.83},{"t":2004.47,"v":2.39},{"t":2004.49,"v":3.70},{"t":2004.51,"v":1.52},{"t":2004.55,"v":0.22},{"t":2004.58,"v":-0.22},{"t":2004.61,"v":-1.52},{"t":2004.645,"v":-1.96},{"t":2004.68,"v":-2.83},{"t":2004.71,"v":-1.30},{"t":2004.74,"v":-0.22},{"t":2004.78,"v":1.30},{"t":2004.815,"v":0.65},{"t":2004.85,"v":-0.43},{"t":2004.88,"v":-1.09},{"t":2004.91,"v":-1.30},{"t":2004.96,"v":-0.65},{"t":2004.99,"v":-0.87},{"t":2005.025,"v":-0.43},{"t":2005.06,"v":-1.09},{"t":2005.09,"v":0.22},{"t":2005.12,"v":0.43},{"t":2005.16,"v":-0.65},{"t":2005.18,"v":-2.83},{"t":2005.20,"v":-0.43},{"t":2005.24,"v":0.87},{"t":2005.27,"v":0.65},{"t":2005.30,"v":1.09},{"t":2005.33,"v":1.74},{"t":2005.37,"v":1.30},{"t":2005.40,"v":1.52},{"t":2005.43,"v":1.96},{"t":2005.46,"v":1.74},{"t":2005.50,"v":2.83},{"t":2005.52,"v":1.09},{"t":2005.55,"v":-0.22},{"t":2005.58,"v":-1.52},{"t":2005.615,"v":-0.22},{"t":2005.65,"v":1.52},{"t":2005.68,"v":2.61},{"t":2005.71,"v":3.48},{"t":2005.75,"v":3.91},{"t":2005.78,"v":3.26},{"t":2005.81,"v":1.52},{"t":2005.84,"v":0.65},{"t":2005.88,"v":0.22},{"t":2005.91,"v":0},{"t":2005.975,"v":0},{"t":2006.04,"v":0},{"t":2006.11,"v":0.04},{"t":2006.17,"v":0.13},{"t":2006.24,"v":0},{"t":2006.30,"v":0.13},{"t":2006.37,"v":0.22},{"t":2006.42,"v":0.43},{"t":2006.45,"v":0.43},{"t":2006.49,"v":3.70},{"t":2006.51,"v":3.26},{"t":2006.55,"v":0.22},{"t":2006.58,"v":-0.22},{"t":2006.61,"v":0},{"t":2006.63,"v":0.43},{"t":2006.66,"v":0.87},{"t":2006.70,"v":1.52},{"t":2006.73,"v":1.09},{"t":2006.76,"v":-0.65},{"t":2006.79,"v":-1.52},{"t":2006.83,"v":-2.39},{"t":2006.86,"v":-3.26},{"t":2006.89,"v":-4.35},{"t":2006.93,"v":-5.43},{"t":2006.96,"v":-4.13},{"t":2006.99,"v":-2.39},{"t":2007.02,"v":-0.65},{"t":2007.06,"v":0.43},{"t":2007.09,"v":0.87},{"t":2007.12,"v":1.09},{"t":2007.155,"v":0.87},{"t":2007.19,"v":0.65},{"t":2007.22,"v":0.65},{"t":2007.25,"v":0.43},{"t":2007.29,"v":0.65},{"t":2007.32,"v":0.43},{"t":2007.35,"v":0.87},{"t":2007.385,"v":1.96},{"t":2007.42,"v":2.83},{"t":2007.45,"v":3.91},{"t":2007.48,"v":4.2}
],
"p800":[
{"t":1990.27,"v":-4.08},{"t":1990.29,"v":-3.33},{"t":1990.33,"v":-1.84},{"t":1990.36,"v":-2.13},{"t":1990.39,"v":-2.02},{"t":1990.43,"v":-2.21},{"t":1990.46,"v":-1.27},{"t":1990.49,"v":2.85},{"t":1990.53,"v":1.54},{"t":1990.56,"v":0.41},{"t":1990.59,"v":-0.15},{"t":1990.63,"v":-0.71},{"t":1990.66,"v":-1.46},{"t":1990.68,"v":-2.96},{"t":1990.70,"v":-6.93},{"t":1990.73,"v":-4.83},{"t":1990.75,"v":-1.09},{"t":1990.76,"v":0.11},{"t":1990.78,"v":-0.34},{"t":1990.80,"v":-1.65},{"t":1990.83,"v":0.79},{"t":1990.85,"v":1.16},{"t":1990.88,"v":1.35},{"t":1990.91,"v":1.72},{"t":1990.95,"v":0.97},{"t":1990.98,"v":0.79},{"t":1991.01,"v":0.60},{"t":1991.05,"v":0.41},{"t":1991.08,"v":0.04},{"t":1991.11,"v":-0.15},{"t":1991.15,"v":-0.52},{"t":1991.20,"v":-0.90},{"t":1991.25,"v":-1.27},{"t":1991.29,"v":-1.46},{"t":1991.35,"v":-1.54},{"t":1991.38,"v":-1.09},{"t":1991.41,"v":-1.65},{"t":1991.45,"v":-1.27},{"t":1991.48,"v":2.28},{"t":1991.51,"v":5.09},{"t":1991.55,"v":4.16},{"t":1991.58,"v":1.16},{"t":1991.61,"v":0.22},{"t":1991.65,"v":-0.15},{"t":1991.67,"v":0.97},{"t":1991.69,"v":1.16},{"t":1991.73,"v":-0.71},{"t":1991.76,"v":-1.84},{"t":1991.79,"v":0.22},{"t":1991.83,"v":1.72},{"t":1991.86,"v":2.47},{"t":1991.91,"v":2.36},{"t":1991.96,"v":2.10},{"t":1992.01,"v":1.54},{"t":1992.08,"v":0.79},{"t":1992.15,"v":0.04},{"t":1992.20,"v":-0.52},{"t":1992.25,"v":-0.90},{"t":1992.29,"v":-0.26},{"t":1992.33,"v":-0.79},{"t":1992.38,"v":-0.90},{"t":1992.43,"v":-0.52},{"t":1992.47,"v":0.22},{"t":1992.49,"v":2.47},{"t":1992.53,"v":2.10},{"t":1992.56,"v":0.79},{"t":1992.60,"v":0.04},{"t":1992.63,"v":-0.90},{"t":1992.67,"v":-1.46},{"t":1992.69,"v":-1.65},{"t":1992.73,"v":-0.52},{"t":1992.76,"v":0.04},{"t":1992.80,"v":0.79},{"t":1992.83,"v":0.60},{"t":1992.88,"v":0.49},{"t":1992.93,"v":0.60},{"t":1992.96,"v":0.41},{"t":1993.01,"v":0.97},{"t":1993.06,"v":0.22},{"t":1993.11,"v":-0.34},{"t":1993.18,"v":-0.90},{"t":1993.25,"v":-0.52},{"t":1993.31,"v":-0.15},{"t":1993.38,"v":0.04},{"t":1993.41,"v":0.04},{"t":1993.45,"v":2.06},{"t":1993.48,"v":0.60},{"t":1993.53,"v":0.22},{"t":1993.58,"v":-0.15},{"t":1993.63,"v":-0.52},{"t":1993.66,"v":-0.15},{"t":1993.69,"v":-3.33},{"t":1993.72,"v":-7.27},{"t":1993.75,"v":-3.71},{"t":1993.78,"v":-1.09},{"t":1993.83,"v":-0.34},{"t":1993.87,"v":0.79},{"t":1993.91,"v":1.16},{"t":1993.95,"v":1.91},{"t":1993.98,"v":1.16},{"t":1994.01,"v":2.10},{"t":1994.05,"v":0.79},{"t":1994.08,"v":0.60},{"t":1994.11,"v":0.22},{"t":1994.15,"v":-0.15},{"t":1994.20,"v":-0.52},{"t":1994.25,"v":-0.34},{"t":1994.28,"v":0.04},{"t":1994.31,"v":0.22},{"t":1994.35,"v":0.04},{"t":1994.38,"v":0.22},{"t":1994.41,"v":0.41},{"t":1994.45,"v":-1.84},{"t":1994.48,"v":1.91},{"t":1994.50,"v":3.60},{"t":1994.53,"v":3.78},{"t":1994.56,"v":1.16},{"t":1994.60,"v":0.79},{"t":1994.63,"v":0.41},{"t":1994.67,"v":0.04},{"t":1994.69,"v":-1.65},{"t":1994.71,"v":-0.90},{"t":1994.75,"v":0.22},{"t":1994.78,"v":0.60},{"t":1994.81,"v":1.35},{"t":1994.85,"v":1.16},{"t":1994.88,"v":0.79},{"t":1994.91,"v":1.24},{"t":1994.95,"v":1.16},{"t":1994.98,"v":0.97},{"t":1995.01,"v":1.24},{"t":1995.05,"v":1.16},{"t":1995.08,"v":0.97},{"t":1995.11,"v":0.60},{"t":1995.15,"v":0.22},{"t":1995.18,"v":-0.34},{"t":1995.21,"v":-1.27},{"t":1995.25,"v":-1.09},{"t":1995.28,"v":-0.90},{"t":1995.35,"v":-0.71},{"t":1995.38,"v":0.41},{"t":1995.41,"v":3.22},{"t":1995.45,"v":3.60},{"t":1995.48,"v":3.60},{"t":1995.51,"v":3.03},{"t":1995.55,"v":1.91},{"t":1995.58,"v":0.97},{"t":1995.61,"v":0.04},{"t":1995.65,"v":-0.71},{"t":1995.68,"v":-1.46},{"t":1995.71,"v":-1.46},{"t":1995.75,"v":-1.65},{"t":1995.78,"v":-1.27},{"t":1995.81,"v":-1.09},{"t":1995.85,"v":0.04},{"t":1995.88,"v":0.41},{"t":1995.91,"v":0.41},{"t":1995.95,"v":0.97},{"t":1995.98,"v":1.91},{"t":1996.01,"v":1.72},{"t":1996.05,"v":0.79},{"t":1996.08,"v":0.22},{"t":1996.11,"v":-0.34},{"t":1996.15,"v":-0.71},{"t":1996.18,"v":-1.65},{"t":1996.21,"v":-2.77},{"t":1996.25,"v":-1.84},{"t":1996.28,"v":-0.90},{"t":1996.31,"v":-1.27},{"t":1996.35,"v":-0.71},{"t":1996.38,"v":-1.09},{"t":1996.41,"v":-0.52},{"t":1996.45,"v":0.22},{"t":1996.48,"v":1.72},{"t":1996.51,"v":1.54},{"t":1996.55,"v":0.97},{"t":1996.58,"v":0.79},{"t":1996.61,"v":0.41},{"t":1996.65,"v":-0.52},{"t":1996.68,"v":-1.84},{"t":1996.71,"v":-3.90},{"t":1996.75,"v":-1.84},{"t":1996.78,"v":-1.27},{"t":1996.81,"v":-1.27},{"t":1996.85,"v":-0.71},{"t":1996.88,"v":0.60},{"t":1996.91,"v":0.97},{"t":1996.95,"v":1.16},{"t":1996.98,"v":1.24},{"t":1997.01,"v":1.35},{"t":1997.05,"v":1.35},{"t":1997.08,"v":1.16},{"t":1997.11,"v":0.79},{"t":1997.15,"v":0.04},
{"t":1997.19,"v":-0.90},{"t":1997.23,"v":-1.46},{"t":1997.26,"v":-1.84},{"t":1997.29,"v":-2.02},{"t":1997.325,"v":-1.84},{"t":1997.36,"v":-1.84},{"t":1997.39,"v":-1.65},{"t":1997.42,"v":-1.65},{"t":1997.46,"v":-1.09},{"t":1997.49,"v":0.79},{"t":1997.52,"v":4.53},{"t":1997.54,"v":6.97},{"t":1997.56,"v":4.16},{"t":1997.59,"v":1.16},{"t":1997.62,"v":-0.71},{"t":1997.65,"v":-1.65},{"t":1997.69,"v":-2.02},{"t":1997.72,"v":-1.84},{"t":1997.75,"v":-1.27},{"t":1997.78,"v":-1.65},{"t":1997.82,"v":-1.09},{"t":1997.85,"v":0.04},{"t":1997.88,"v":0.60},{"t":1997.915,"v":0.22},{"t":1997.935,"v":1.16},{"t":1997.97,"v":2.66},{"t":1997.99,"v":3.48},{"t":1998.03,"v":3.22},{"t":1998.06,"v":2.28},{"t":1998.11,"v":1.91},{"t":1998.14,"v":0.79},{"t":1998.18,"v":0.22},{"t":1998.21,"v":-0.15},{"t":1998.24,"v":0.04},{"t":1998.275,"v":0.22},{"t":1998.31,"v":-0.34},{"t":1998.34,"v":-0.15},{"t":1998.37,"v":0.04},{"t":1998.41,"v":0.22},{"t":1998.44,"v":0.79},{"t":1998.47,"v":1.16},{"t":1998.50,"v":1.54},{"t":1998.54,"v":2.28},{"t":1998.57,"v":2.28},{"t":1998.60,"v":1.54},{"t":1998.64,"v":0.41},{"t":1998.67,"v":-0.15},{"t":1998.70,"v":-0.71},{"t":1998.73,"v":-1.27},{"t":1998.77,"v":-1.65},{"t":1998.80,"v":-2.21},{"t":1998.83,"v":-1.27},{"t":1998.865,"v":-0.90},{"t":1998.90,"v":-0.52},{"t":1998.93,"v":0.22},{"t":1998.96,"v":0.04},{"t":1999.00,"v":-0.34},{"t":1999.03,"v":-0.15},{"t":1999.06,"v":0.04},{"t":1999.095,"v":-0.04},{"t":1999.13,"v":-0.15},{"t":1999.16,"v":-0.34},{"t":1999.19,"v":-0.71},{"t":1999.23,"v":-0.90},{"t":1999.26,"v":-1.09},{"t":1999.29,"v":-1.09},{"t":1999.32,"v":-0.34},{"t":1999.34,"v":1.72},{"t":1999.37,"v":1.54},{"t":1999.40,"v":0.22},{"t":1999.42,"v":-0.15},{"t":1999.455,"v":0.79},{"t":1999.49,"v":4.53},{"t":1999.51,"v":7.66},{"t":1999.53,"v":5.66},{"t":1999.57,"v":3.03},{"t":1999.60,"v":0.79},{"t":1999.63,"v":-0.71},{"t":1999.67,"v":-1.65},{"t":1999.70,"v":-2.96},{"t":1999.72,"v":-5.21},{"t":1999.75,"v":-2.58},{"t":1999.78,"v":0.60},{"t":1999.82,"v":0.97},{"t":1999.87,"v":1.16},{"t":1999.91,"v":1.16},{"t":1999.95,"v":1.35},{"t":1999.98,"v":1.72},{"t":2000.01,"v":2.10},{"t":2000.045,"v":1.72},{"t":2000.08,"v":0.79},{"t":2000.11,"v":0.04},{"t":2000.14,"v":-0.52},{"t":2000.176,"v":-1.09},{"t":2000.21,"v":-1.46},{"t":2000.24,"v":-1.65},{"t":2000.27,"v":-1.84},{"t":2000.31,"v":-1.27},{"t":2000.34,"v":-0.90},{"t":2000.37,"v":-0.52},{"t":2000.405,"v":-0.34},{"t":2000.44,"v":0.79},{"t":2000.47,"v":1.35},{"t":2000.50,"v":1.54},{"t":2000.54,"v":1.24},{"t":2000.57,"v":0.97},{"t":2000.60,"v":0.41},{"t":2000.634,"v":0.41},{"t":2000.67,"v":0.22},{"t":2000.70,"v":0.22},{"t":2000.73,"v":0.04},{"t":2000.765,"v":0.22},{"t":2000.80,"v":0.22},{"t":2000.83,"v":0.41},{"t":2000.85,"v":0.97},{"t":2000.88,"v":0.22},{"t":2000.91,"v":0.22},{"t":2000.94,"v":0.41},{"t":2000.98,"v":0.41},{"t":2001.03,"v":0.22},{"t":2001.06,"v":0.04},{"t":2001.09,"v":-0.34},{"t":2001.13,"v":-0.90},{"t":2001.16,"v":-1.46},{"t":2001.19,"v":-2.02},{"t":2001.22,"v":-2.58},{"t":2001.26,"v":-3.15},{"t":2001.29,"v":-3.33},{"t":2001.32,"v":-2.96},{"t":2001.355,"v":-2.58},{"t":2001.39,"v":-2.02},{"t":2001.42,"v":-1.09},{"t":2001.45,"v":0.04},{"t":2001.49,"v":1.16},{"t":2001.52,"v":2.10},{"t":2001.54,"v":1.91},{"t":2001.565,"v":0.60},{"t":2001.60,"v":-1.46},{"t":2001.625,"v":-3.33},{"t":2001.65,"v":-4.46},{"t":2001.68,"v":-5.58},{"t":2001.70,"v":-6.70},{"t":2001.73,"v":-4.64},{"t":2001.755,"v":-2.58},{"t":2001.78,"v":-1.09},{"t":2001.815,"v":1.16},{"t":2001.85,"v":2.28},{"t":2001.88,"v":2.85},{"t":2001.91,"v":3.22},{"t":2001.945,"v":3.03},{"t":2001.98,"v":3.22},{"t":2002.01,"v":2.85},{"t":2002.04,"v":2.28},{"t":2002.08,"v":1.16},{"t":2002.11,"v":-0.34},{"t":2002.14,"v":-1.09},{"t":2002.175,"v":-1.46},{"t":2002.21,"v":-2.21},{"t":2002.24,"v":-1.65},{"t":2002.27,"v":-1.27},{"t":2002.305,"v":-0.71},{"t":2002.34,"v":0.22},{"t":2002.37,"v":0.41},{"t":2002.40,"v":0.41},{"t":2002.44,"v":0.97},{"t":2002.47,"v":2.28},{"t":2002.50,"v":3.48},{"t":2002.535,"v":2.66},{"t":2002.57,"v":0.97},{"t":2002.60,"v":0.22},{"t":2002.63,"v":0.60},{"t":2002.67,"v":0.22},{"t":2002.70,"v":0.04},{"t":2002.73,"v":-0.15},{"t":2002.764,"v":0.22},{"t":2002.80,"v":1.16},{"t":2002.83,"v":1.72},{"t":2002.86,"v":1.35},{"t":2002.895,"v":1.16},{"t":2002.93,"v":1.24},{"t":2002.96,"v":0.97},{"t":2002.99,"v":0.79},{"t":2003.03,"v":0.60},{"t":2003.06,"v":0.41},{"t":2003.09,"v":0.04},{"t":2003.125,"v":-0.34},{"t":2003.16,"v":-0.90},{"t":2003.19,"v":-1.01},{"t":2003.22,"v":-1.01},{"t":2003.255,"v":-0.90},{"t":2003.29,"v":-0.52},{"t":2003.32,"v":-0.15},{"t":2003.35,"v":0.22},{"t":2003.39,"v":0.60},{"t":2003.42,"v":0.97},{"t":2003.45,"v":1.54},{"t":2003.49,"v":1.91},{"t":2003.52,"v":1.35},{"t":2003.55,"v":0.41},{"t":2003.583,"v":-0.15},{"t":2003.62,"v":-1.09},{"t":2003.65,"v":-2.21},{"t":2003.68,"v":-3.33},{"t":2003.714,"v":-4.64},{"t":2003.73,"v":-5.21},{"t":2003.76,"v":-3.71},{"t":2003.78,"v":-2.21},{"t":2003.81,"v":-1.09},{"t":2003.85,"v":0.04},{"t":2003.88,"v":0.79},{"t":2003.91,"v":0.97},{"t":2003.944,"v":1.16},{"t":2003.98,"v":1.09},{"t":2004.01,"v":0.97},{"t":2004.04,"v":0.60},{"t":2004.075,"v":0.22},{"t":2004.11,"v":-0.15},{"t":2004.14,"v":-0.52},{"t":2004.17,"v":-0.71},{"t":2004.206,"v":-0.90},{"t":2004.24,"v":-1.01},{"t":2004.27,"v":-1.27},{"t":2004.30,"v":-1.27},{"t":2004.337,"v":-0.71},{"t":2004.37,"v":0.41},{"t":2004.40,"v":1.16},{"t":2004.435,"v":2.28},{"t":2004.47,"v":2.85},{"t":2004.49,"v":3.48},{"t":2004.51,"v":1.91},{"t":2004.55,"v":0.79},{"t":2004.58,"v":0.22},{"t":2004.61,"v":-0.90},{"t":2004.645,"v":-1.65},{"t":2004.68,"v":-3.33},{"t":2004.70,"v":-1.65},{"t":2004.73,"v":-0.71},{"t":2004.76,"v":-0.71},{"t":2004.80,"v":-0.15},{"t":2004.83,"v":0.22},{"t":2004.86,"v":0.04},{"t":2004.894,"v":0.41},{"t":2004.93,"v":0.79},{"t":2004.96,"v":0.60},{"t":2004.99,"v":0.41},{"t":2005.025,"v":0.22},{"t":2005.06,"v":0.04},{"t":2005.09,"v":-0.15},{"t":2005.123,"v":-0.52},{"t":2005.16,"v":-1.09},{"t":2005.19,"v":-1.84},{"t":2005.22,"v":-1.65},{"t":2005.254,"v":-1.27},{"t":2005.29,"v":-0.90},{"t":2005.32,"v":-0.71},{"t":2005.35,"v":-0.34},{"t":2005.385,"v":0.22},{"t":2005.42,"v":0.79},{"t":2005.45,"v":1.35},{"t":2005.484,"v":1.91},{"t":2005.52,"v":2.10},{"t":2005.55,"v":2.28},{"t":2005.58,"v":1.72},{"t":2005.615,"v":0.97},{"t":2005.65,"v":1.35},{"t":2005.68,"v":1.72},{"t":2005.713,"v":2.28},{"t":2005.745,"v":2.47},{"t":2005.78,"v":2.47},{"t":2005.81,"v":2.66},{"t":2005.844,"v":2.66},{"t":2005.88,"v":2.47},{"t":2005.91,"v":2.47},{"t":2005.94,"v":1.91},{"t":2005.975,"v":1.72},{"t":2006.01,"v":1.16},{"t":2006.04,"v":0.79},{"t":2006.073,"v":0.41},{"t":2006.11,"v":0.22},{"t":2006.14,"v":-0.15},{"t":2006.17,"v":-0.34},{"t":2006.205,"v":-0.71},{"t":2006.24,"v":-0.90},{"t":2006.27,"v":-1.09},{"t":2006.30,"v":-0.90},{"t":2006.335,"v":-1.09},{"t":2006.37,"v":-0.71},{"t":2006.40,"v":-0.52},{"t":2006.434,"v":-0.15},{"t":2006.47,"v":0.79},{"t":2006.50,"v":2.66},{"t":2006.52,"v":4.34},{"t":2006.545,"v":1.91},{"t":2006.58,"v":0.04},{"t":2006.61,"v":-0.52},{"t":2006.643,"v":-0.71},{"t":2006.676,"v":-1.65},{"t":2006.71,"v":-1.09},{"t":2006.74,"v":-0.34},{"t":2006.775,"v":0.22},{"t":2006.81,"v":0.41},{"t":2006.84,"v":0.97},{"t":2006.87,"v":0.41},{"t":2006.905,"v":0.60},{"t":2006.94,"v":0.22},{"t":2006.97,"v":0.97},{"t":2007.004,"v":0.79},{"t":2007.04,"v":0.60},{"t":2007.07,"v":0.22},{"t":2007.10,"v":0.04},{"t":2007.135,"v":-0.52},{"t":2007.17,"v":-0.71},{"t":2007.20,"v":-1.27},{"t":2007.234,"v":-1.65},{"t":2007.27,"v":-1.84},{"t":2007.30,"v":-1.46},{"t":2007.33,"v":-0.90},{"t":2007.365,"v":-0.71},{"t":2007.40,"v":0.04},{"t":2007.43,"v":1.16},{"t":2007.46,"v":2.28},{"t":2007.48,"v":2.6}
]
},
"vconcat":[
{"width":1115,"height":134,
 "title":{"text":"Изменение концентрации Cl-иона в воде скв. № 44, ст. Верхняя Паратунка","offset":16.3},
 "layer":[
  {"data":{"name":"cl"},"mark":{"type":"line","color":"#000","strokeWidth":1.6,"clip":true},
   "encoding":{
    "x":{"field":"t","type":"quantitative","scale":{"domain":[1988.047,2007.476],"nice":false,"zero":false},"axis":{"values":[1989,1990,1991,1992,1993,1994,1995,1996,1997,1998,1999,2000,2001,2002,2003,2004,2005,2006,2007],"labels":false,"grid":true}},
    "y":{"field":"v","type":"quantitative","scale":{"domain":[26.3,42.45],"nice":false,"zero":false},"axis":{"values":[30,35,40],"grid":true}}}},
  {"data":{"name":"ev"},"mark":{"type":"rule","color":"#000","strokeWidth":1.2,"strokeDash":[5,2.5]},"encoding":{"x":{"field":"t","type":"quantitative"}}}
 ]},
{"width":1115,"height":134,
 "title":{"text":"Параметр нестационарности, T = 200, ∆T = 10","offset":5.2},
 "layer":[
  {"data":{"name":"p200"},"mark":{"type":"line","color":"#000","strokeWidth":1.2,"clip":true},
   "encoding":{
    "x":{"field":"t","type":"quantitative","scale":{"domain":[1988.047,2007.476],"nice":false,"zero":false},"axis":{"values":[1989,1990,1991,1992,1993,1994,1995,1996,1997,1998,1999,2000,2001,2002,2003,2004,2005,2006,2007],"labels":false,"grid":true}},
    "y":{"field":"v","type":"quantitative","scale":{"domain":[-16,20.2],"nice":false,"zero":false},"axis":{"values":[-10,0,10,20],"grid":true}}}},
  {"data":{"name":"ev"},"mark":{"type":"rule","color":"#000","strokeWidth":1.2,"strokeDash":[5,2.5]},"encoding":{"x":{"field":"t","type":"quantitative"}}}
 ]},
{"width":1115,"height":134,
 "title":{"text":"Параметр нестационарности, T = 500, ∆T = 10","offset":14.3},
 "layer":[
  {"data":{"name":"p500"},"mark":{"type":"line","color":"#000","strokeWidth":1.2,"clip":true},
   "encoding":{
    "x":{"field":"t","type":"quantitative","scale":{"domain":[1988.047,2007.476],"nice":false,"zero":false},"axis":{"values":[1989,1990,1991,1992,1993,1994,1995,1996,1997,1998,1999,2000,2001,2002,2003,2004,2005,2006,2007],"labels":false,"grid":true}},
    "y":{"field":"v","type":"quantitative","scale":{"domain":[-8.2,9.35],"nice":false,"zero":false},"axis":{"values":[-5,0,5],"grid":true}}}},
  {"data":{"name":"ev"},"mark":{"type":"rule","color":"#000","strokeWidth":1.2,"strokeDash":[5,2.5]},"encoding":{"x":{"field":"t","type":"quantitative"}}}
 ]},
{"width":1115,"height":134,
 "title":{"text":"Параметр нестационарности, T = 800, ∆T = 10","offset":15.5},
 "layer":[
  {"data":{"name":"p800"},"mark":{"type":"line","color":"#000","strokeWidth":1.2,"clip":true},
   "encoding":{
    "x":{"field":"t","type":"quantitative","scale":{"domain":[1988.047,2007.476],"nice":false,"zero":false},"axis":{"values":[1989,1990,1991,1992,1993,1994,1995,1996,1997,1998,1999,2000,2001,2002,2003,2004,2005,2006,2007],"labels":false,"grid":true}},
    "y":{"field":"v","type":"quantitative","scale":{"domain":[-7.36,7.7],"nice":false,"zero":false},"axis":{"values":[-5,0,5],"grid":true}}}},
  {"data":{"name":"ev"},"mark":{"type":"rule","color":"#000","strokeWidth":1.2,"strokeDash":[5,2.5]},"encoding":{"x":{"field":"t","type":"quantitative"}}}
 ]},
{"width":1115,"height":135,
 "title":{"text":"Магнитуда землетрясений","offset":26},
 "data":{"name":"eq"},
 "layer":[
  {"mark":{"type":"rule","color":"#000","strokeWidth":2.5},
   "encoding":{
    "x":{"field":"t","type":"quantitative","scale":{"domain":[1988.047,2007.476],"nice":false,"zero":false},"axis":{"values":[1989,1990,1991,1992,1993,1994,1995,1996,1997,1998,1999,2000,2001,2002,2003,2004,2005,2006,2007],"labels":true,"grid":true,"labelExpr":"(datum.value % 100 < 10 ? '0' : '') + (datum.value % 100)"}},
    "y":{"field":"m","type":"quantitative","scale":{"domain":[5,7.5],"nice":false,"zero":false},"axis":{"values":[5,6,7],"grid":true,"format":"d"}},
    "y2":{"datum":5}}},
  {"mark":{"type":"point","shape":"triangle-up","filled":true,"size":130,"color":"#000","opacity":1},
   "encoding":{"x":{"field":"t","type":"quantitative"},"y":{"field":"m","type":"quantitative"}}}
 ]}
]
}
